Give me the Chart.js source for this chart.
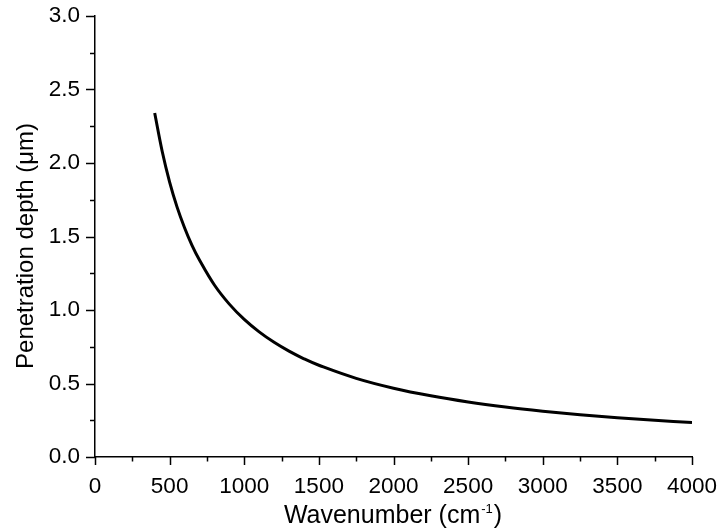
<!DOCTYPE html>
<html>
<head>
<meta charset="utf-8">
<script src="https://cdn.jsdelivr.net/npm/chart.js@4"></script>
<style>
  html, body { margin: 0; padding: 0; background: #fff; }
  #wrap { width: 721px; height: 531px; }
</style>
</head>
<body>
<div id="wrap"><canvas id="chart"></canvas></div>
<script>
// valores
const wavenumber = [400, 450, 500, 550, 600, 650, 700, 800, 900, 1000, 1100, 1200, 1300, 1400, 1500,
                    1750, 2000, 2250, 2500, 2750, 3000, 3250, 3500, 3750, 4000];
const depth = [2.34, 2.08, 1.87, 1.70, 1.56, 1.44, 1.34, 1.17, 1.04, 0.936, 0.851, 0.78, 0.72, 0.668, 0.624,
               0.535, 0.468, 0.416, 0.374, 0.34, 0.312, 0.288, 0.267, 0.25, 0.234];
const xTicksMajor = [0, 500, 1000, 1500, 2000, 2500, 3000, 3500, 4000];
const yTicksMajor = [0.0, 0.5, 1.0, 1.5, 2.0, 2.5, 3.0];

const fuente = 'Liberation Sans, Arial, sans-serif';

// marcas de graduacion (mayores y menores) y titulos de ejes
const ejes = {
  id: 'ejes',
  afterDraw(chart) {
    const ctx = chart.ctx;
    const xs = chart.scales.x, ys = chart.scales.y;
    ctx.save();
    ctx.strokeStyle = '#000';
    ctx.lineWidth = 1.5;
    ctx.beginPath();
    xs.ticks.forEach(t => {
      const px = Math.round(xs.getPixelForValue(t.value)) + 0.5;
      const largo = xTicksMajor.includes(t.value) ? 8 : 4.5;
      ctx.moveTo(px, xs.top);
      ctx.lineTo(px, xs.top + largo);
    });
    ys.ticks.forEach(t => {
      const py = Math.round(ys.getPixelForValue(t.value)) + 0.5;
      const largo = yTicksMajor.some(v => Math.abs(v - t.value) < 1e-6) ? 9 : 5;
      ctx.moveTo(ys.right, py);
      ctx.lineTo(ys.right - largo, py);
    });
    ctx.stroke();

    ctx.fillStyle = '#000';
    // titulo eje x con superindice
    const a = 'Wavenumber (cm', sup = '-1', b = ')';
    ctx.font = '25px ' + fuente;
    const wa = ctx.measureText(a).width, wb = ctx.measureText(b).width;
    ctx.font = '13px ' + fuente;
    const ws = ctx.measureText(sup).width;
    const cx = 392;
    let x0 = cx - (wa + ws + wb) / 2;
    const base = 523;
    ctx.textBaseline = 'alphabetic';
    ctx.textAlign = 'left';
    ctx.font = '25px ' + fuente;
    ctx.fillText(a, x0, base);
    ctx.font = '13px ' + fuente;
    ctx.fillText(sup, x0 + wa + 1, base - 10);
    ctx.font = '25px ' + fuente;
    ctx.fillText(b, x0 + wa + ws + 2, base);

    // titulo eje y
    ctx.font = '24px ' + fuente;
    ctx.translate(33, 246);
    ctx.rotate(-Math.PI / 2);
    ctx.textAlign = 'center';
    ctx.fillText('Penetration depth (\u03bcm)', 0, 0);
    ctx.restore();
  }
};

function sinRelleno(s) {
  s.paddingTop = 0; s.paddingBottom = 0; s.paddingLeft = 0; s.paddingRight = 0;
}

new Chart(document.getElementById('chart'), {
  type: 'line',
  data: {
    datasets: [{
      data: wavenumber.map((w, i) => ({ x: w, y: depth[i] })),
      borderColor: '#000',
      borderWidth: 3,
      pointRadius: 0,
      tension: 0.4,
      fill: false
    }]
  },
  options: {
    responsive: true,
    maintainAspectRatio: false,
    animation: false,
    layout: { padding: { top: 16, right: 29, left: 0, bottom: 0 } },
    plugins: { legend: { display: false }, tooltip: { enabled: false } },
    scales: {
      x: {
        type: 'linear', min: 0, max: 4000,
        afterFit(s) { s.height = 74; sinRelleno(s); },
        border: { color: '#000', width: 1.5 },
        grid: { drawOnChartArea: false, drawTicks: false },
        ticks: {
          stepSize: 250, autoSkip: false, maxRotation: 0, padding: 16,
          color: '#000', font: { family: fuente, size: 22.5 },
          callback: v => xTicksMajor.includes(v) ? String(v) : ''
        }
      },
      y: {
        min: 0, max: 3,
        afterFit(s) { s.width = 95; sinRelleno(s); },
        border: { color: '#000', width: 1.5 },
        grid: { drawOnChartArea: false, drawTicks: false },
        ticks: {
          stepSize: 0.25, autoSkip: false, padding: 15,
          color: '#000', font: { family: fuente, size: 22.5 },
          callback: v => yTicksMajor.some(m => Math.abs(m - v) < 1e-6) ? v.toFixed(1) : ''
        }
      }
    }
  },
  plugins: [ejes]
});
</script>
</body>
</html>
